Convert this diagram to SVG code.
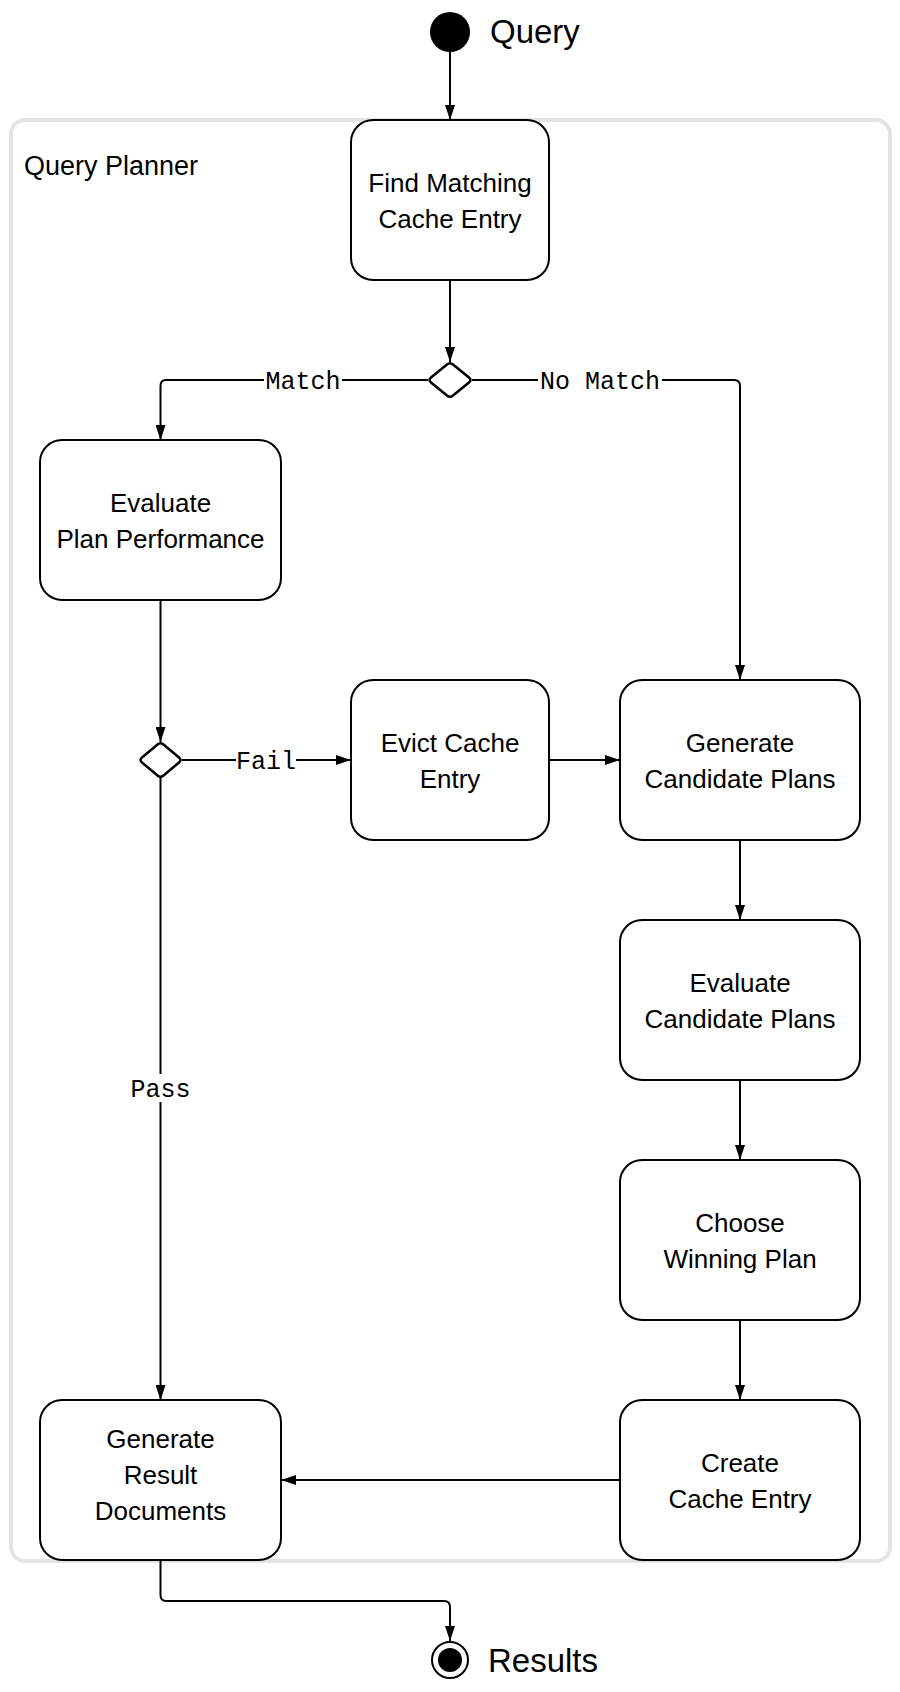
<svg xmlns="http://www.w3.org/2000/svg" width="900" height="1692" viewBox="0 0 900 1692">
<style>
.node rect{fill:#fff;stroke:#000;stroke-width:2}
.node text{font-family:"Liberation Sans",Arial,sans-serif;font-size:26px;fill:#000;text-anchor:middle}
.dec path{fill:#fff;stroke:#000;stroke-width:2.5;stroke-linejoin:round}
.edges path{fill:none;stroke:#000;stroke-width:2}
.lbl{font-family:"Liberation Mono","Courier New",monospace;font-size:25px;fill:#000;text-anchor:middle}
.lblbg{fill:#fff}
.term{font-family:"Liberation Sans",Arial,sans-serif;font-size:33px;fill:#000}
</style>
<defs>
<marker id="arr" viewBox="0 0 15 10" refX="15" refY="5" markerWidth="15" markerHeight="10" markerUnits="userSpaceOnUse" orient="auto">
<path d="M0,0 L15,5 L0,10 Z" fill="#000"/>
</marker>
</defs>
<rect width="900" height="1692" fill="#fff"/>
<g id="container">
<rect x="11" y="120" width="879" height="1441" rx="14" fill="#fff" stroke="#e4e4e4" stroke-width="4"/>
<text x="24" y="175" font-family="Liberation Sans, Arial, sans-serif" font-size="27" fill="#000">Query Planner</text>
</g>
<g id="start">
<circle cx="450" cy="32" r="20" fill="#000"/>
<text class="term" x="490" y="43">Query</text>
</g>
<g class="edges" id="connectors">
<path d="M450,52 L450,120" marker-end="url(#arr)"/>
<path d="M450,280 L450,362" marker-end="url(#arr)"/>
<path d="M428,380 L166,380 Q160.5,380 160.5,386 L160.5,440" marker-end="url(#arr)"/>
<path d="M472,380 L734,380 Q740,380 740,386 L740,680" marker-end="url(#arr)"/>
<path d="M160.5,600 L160.5,742" marker-end="url(#arr)"/>
<path d="M182,760 L351,760" marker-end="url(#arr)"/>
<path d="M549,760 L620,760" marker-end="url(#arr)"/>
<path d="M160.5,778 L160.5,1400" marker-end="url(#arr)"/>
<path d="M740,840 L740,920" marker-end="url(#arr)"/>
<path d="M740,1080 L740,1160" marker-end="url(#arr)"/>
<path d="M740,1320 L740,1400" marker-end="url(#arr)"/>
<path d="M620,1480 L281,1480" marker-end="url(#arr)"/>
<path d="M160.5,1560 L160.5,1595 Q160.5,1601 166,1601 L444,1601 Q450,1601 450,1607 L450,1641" marker-end="url(#arr)"/>
<rect class="lblbg" x="264" y="366" width="78" height="28"/>
<text class="lbl" x="303" y="389">Match</text>
<rect class="lblbg" x="538" y="366" width="124" height="28"/>
<text class="lbl" x="600" y="389">No Match</text>
<rect class="lblbg" x="236" y="746" width="60" height="28"/>
<text class="lbl" x="266" y="769">Fail</text>
<rect class="lblbg" x="128" y="1074" width="64" height="28"/>
<text class="lbl" x="160.5" y="1097">Pass</text>
</g>
<g class="node" id="find">
<rect x="351" y="120" width="198" height="160" rx="22"/>
<text x="450" y="192">Find Matching</text>
<text x="450" y="228">Cache Entry</text>
</g>
<g class="dec" id="cacheDecision"><path d="M447,364.5 Q450,362 453,364.5 L469,377.5 Q472,380 469,382.5 L453,395.5 Q450,398 447,395.5 L431,382.5 Q428,380 431,377.5 Z"/></g>
<g class="node" id="evalPlan">
<rect x="40" y="440" width="241" height="160" rx="22"/>
<text x="160.5" y="512">Evaluate</text>
<text x="160.5" y="548">Plan Performance</text>
</g>
<g class="dec" id="perfDecision"><path d="M157.5,744.5 Q160.5,742 163.5,744.5 L179,757.5 Q182,760 179,762.5 L163.5,775.5 Q160.5,778 157.5,775.5 L142,762.5 Q139,760 142,757.5 Z"/></g>
<g class="node" id="evict">
<rect x="351" y="680" width="198" height="160" rx="22"/>
<text x="450" y="752">Evict Cache</text>
<text x="450" y="788">Entry</text>
</g>
<g class="node" id="genCand">
<rect x="620" y="680" width="240" height="160" rx="22"/>
<text x="740" y="752">Generate</text>
<text x="740" y="788">Candidate Plans</text>
</g>
<g class="node" id="evalCand">
<rect x="620" y="920" width="240" height="160" rx="22"/>
<text x="740" y="992">Evaluate</text>
<text x="740" y="1028">Candidate Plans</text>
</g>
<g class="node" id="choose">
<rect x="620" y="1160" width="240" height="160" rx="22"/>
<text x="740" y="1232">Choose</text>
<text x="740" y="1268">Winning Plan</text>
</g>
<g class="node" id="create">
<rect x="620" y="1400" width="240" height="160" rx="22"/>
<text x="740" y="1472">Create</text>
<text x="740" y="1508">Cache Entry</text>
</g>
<g class="node" id="genResult">
<rect x="40" y="1400" width="241" height="160" rx="22"/>
<text x="160.5" y="1448">Generate</text>
<text x="160.5" y="1484">Result</text>
<text x="160.5" y="1520">Documents</text>
</g>
<g id="end">
<circle cx="450" cy="1660" r="18" fill="#fff" stroke="#000" stroke-width="2"/>
<circle cx="450" cy="1660" r="12" fill="#000"/>
<text class="term" x="488" y="1672">Results</text>
</g>
</svg>
